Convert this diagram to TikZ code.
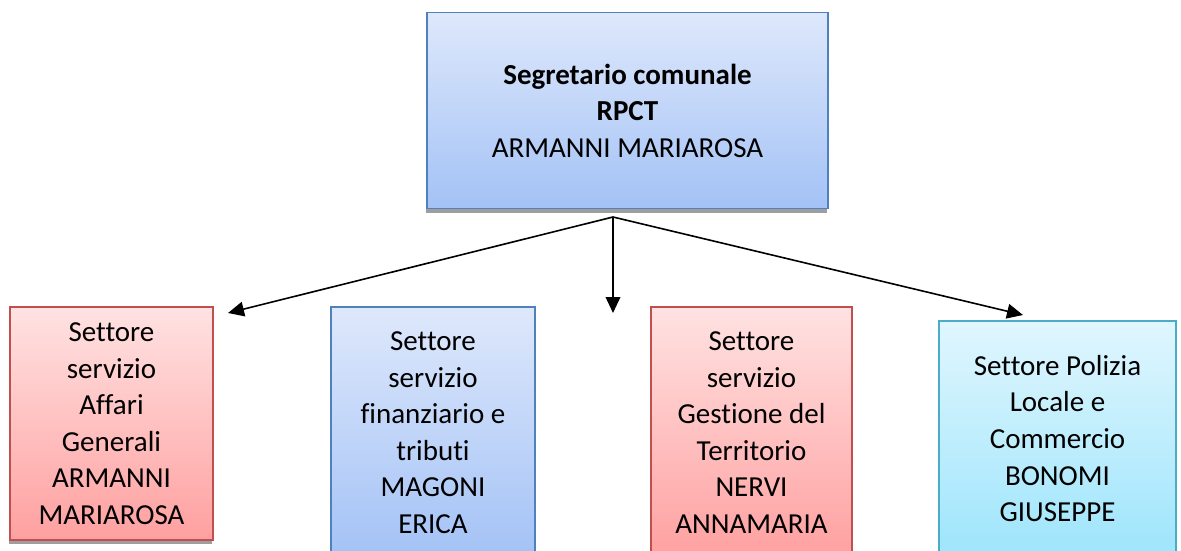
\documentclass[tikz,border=0pt]{standalone}
\usepackage{fontspec}
\setmainfont{Carlito}[Ligatures={NoCommon,NoContextual}]
\usetikzlibrary{arrows.meta,shadows}
\definecolor{bluetop}{RGB}{222,232,251}
\definecolor{bluebot}{RGB}{163,194,246}
\definecolor{blueline}{RGB}{79,129,189}
\definecolor{redtop}{RGB}{255,226,226}
\definecolor{redbot}{RGB}{255,160,160}
\definecolor{redline}{RGB}{192,80,77}
\definecolor{cyantop}{RGB}{224,246,254}
\definecolor{cyanbot}{RGB}{158,229,252}
\definecolor{cyanline}{RGB}{75,172,198}
\tikzset{
  box/.style={rectangle, line width=1.1pt, align=center, inner sep=0pt,
    font=\fontsize{21.75}{27.4}\selectfont,
    drop shadow={shadow xshift=-0.6pt, shadow yshift=-3pt, fill=black!38, opacity=1}},
  bluebox/.style={box, draw=blueline, top color=bluetop, bottom color=bluebot},
  redbox/.style={box, draw=redline, top color=redtop, bottom color=redbot},
  cyanbox/.style={box, draw=cyanline, top color=cyantop, bottom color=cyanbot},
  conn/.style={line width=1.2pt, -{Triangle[length=12pt,width=11pt]}}
}
\begin{document}
\begin{tikzpicture}[x=0.75pt,y=-0.75pt]
\useasboundingbox (0,0) rectangle (1181,550);
\clip (0,0) rectangle (1181,550);
\node[bluebox, minimum width=401*0.75pt, minimum height=196*0.75pt] (top) at (627.5,110.5)
  {\textbf{Segretario comunale}\\\textbf{RPCT}\\ARMANNI MARIAROSA};
\node[redbox, minimum width=203*0.75pt, minimum height=233*0.75pt] (b1) at (111.5,423.5)
  {Settore\\servizio\\Affari\\Generali\\ARMANNI\\MARIAROSA};
\node[bluebox, minimum width=204*0.75pt, minimum height=251*0.75pt] (b2) at (433,432.5)
  {Settore\\servizio\\finanziario e\\tributi\\MAGONI\\ERICA};
\node[redbox, minimum width=201*0.75pt, minimum height=251*0.75pt] (b3) at (751.5,432.5)
  {Settore\\servizio\\Gestione del\\Territorio\\NERVI\\ANNAMARIA};
\node[cyanbox, minimum width=237*0.75pt, minimum height=235*0.75pt] (b4) at (1057.5,438.5)
  {Settore Polizia\\Locale e\\Commercio\\BONOMI\\GIUSEPPE};
\coordinate (hub) at (613,217);
\coordinate (e1) at (228,313);
\coordinate (e2) at (613,313);
\coordinate (e3) at (1023,315);
\draw[conn] (hub) -- (e1);
\draw[conn] (hub) -- (e2);
\draw[conn] (hub) -- (e3);
\end{tikzpicture}
\end{document}
